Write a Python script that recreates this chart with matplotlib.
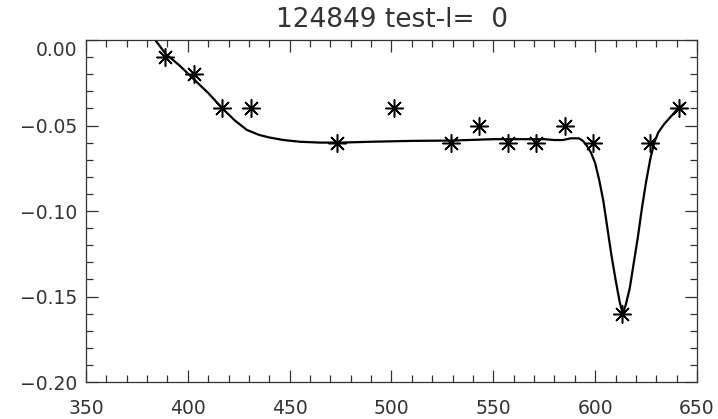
import matplotlib
matplotlib.use('Agg')
import matplotlib.pyplot as plt
import matplotlib.transforms as mtransforms
import numpy as np

# measured points (asterisks)
obs_x = [389, 403, 417, 431, 473, 501, 529, 543, 557, 571, 585, 599, 613, 627, 641]
obs_y = [-0.01, -0.02, -0.04, -0.04, -0.06, -0.04, -0.06, -0.05, -0.06, -0.06,
         -0.05, -0.06, -0.16, -0.06, -0.04]

# fitted curve
fit_x = [384, 389, 396, 403, 410, 417, 423, 429, 435, 440, 447, 455, 465, 475,
         490, 510, 530, 550, 565, 575, 580, 584, 588, 592, 594, 596, 598, 600,
         602, 604, 606, 608, 610, 612, 613.5, 615, 617, 619, 621, 623, 625, 627,
         629, 631, 634, 637, 640, 643]
fit_y = [0.000, -0.008, -0.015, -0.023, -0.031, -0.040, -0.047, -0.0526, -0.0555,
         -0.057, -0.0585, -0.0595, -0.060, -0.060, -0.0595, -0.059, -0.0588,
         -0.058, -0.058, -0.058, -0.0585, -0.0585, -0.0575, -0.0575, -0.059,
         -0.062, -0.066, -0.072, -0.082, -0.094, -0.110, -0.126, -0.140, -0.153,
         -0.160, -0.155, -0.145, -0.130, -0.115, -0.098, -0.083, -0.070, -0.060,
         -0.054, -0.049, -0.045, -0.041, -0.038]

xticks = [350, 400, 450, 500, 550, 600, 650]
yticks = [-0.20, -0.15, -0.10, -0.05, 0.00]
ylabels = ['\u22120.20', '\u22120.15', '\u22120.10', '\u22120.05', '0.00']
title = '124849 test-l=  0'

fig = plt.figure(figsize=(7.18, 4.19), dpi=100)
ax = fig.add_axes([86/718., 1 - 382/419., 611/718., 342/419.])

ax.plot(fit_x, fit_y, color='black', lw=1.6)
ax.plot(obs_x, obs_y, ls='none', marker=(8, 2, 0), ms=13, mew=1.1,
        color='black')

ax.set_xlim(350, 650)
ax.set_ylim(-0.20, 0.00)
ax.set_xticks(xticks)
ax.set_xticks(np.arange(350, 651, 10), minor=True)
ax.set_yticks(yticks)
ax.set_yticks(np.linspace(-0.20, 0.0, 21), minor=True)
ax.set_yticklabels(ylabels)

ax.tick_params(which='both', direction='in', top=True, right=True,
               color='#333333', width=0.9)
ax.tick_params(which='major', length=8.5)
ax.tick_params(which='minor', length=5)
ax.tick_params(axis='x', pad=12, labelsize=13.5, labelcolor='#333333')
ax.tick_params(axis='y', pad=6, labelsize=13.5, labelcolor='#333333')
for s in ax.spines.values():
    s.set_color('#333333')
    s.set_linewidth(0.9)

# IDL pushes the top label down a bit
lbl = ax.get_yticklabels()[-1]
lbl.set_transform(lbl.get_transform() +
                  mtransforms.ScaledTranslation(0, -8/100., fig.dpi_scale_trans))

fig.text(391.5/718., 1 - 27/419., title, ha='center', va='baseline',
         fontsize=19, color='#333333')

fig.savefig('out.png', dpi=100)
